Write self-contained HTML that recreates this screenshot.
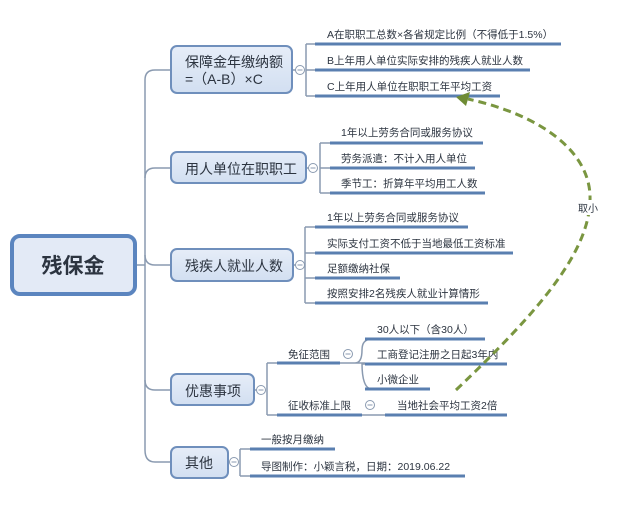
<!DOCTYPE html>
<html><head><meta charset="utf-8"><style>
html,body{margin:0;padding:0;background:#fff;}
svg text{font-family:"Liberation Sans","Noto Sans CJK SC",sans-serif;fill:#2c3440;}
</style></head><body>
<svg width="640" height="504" viewBox="0 0 640 504" xmlns="http://www.w3.org/2000/svg">
<g fill="none" stroke="#8a9ab0" stroke-width="1.5">
<path d="M137 265 H145"/>
<path d="M155 70 Q145 70 145 80 V450 Q145 462 155 462 H170"/>
<path d="M145 178 Q145 168 155 168 H170"/>
<path d="M145 255 Q145 265 155 265 H170"/>
<path d="M145 380 Q145 390 155 390 H170"/>
<path d="M155 70 H170"/>
<path d="M306 44 V96 M306 44 H315 M306 70 H315 M306 96 H315 M293 70 H296"/>
<path d="M320 143 V193 M320 143 H330 M320 168 H330 M320 193 H330 M306 168 H309"/>
<path d="M305 227 V303 M305 227 H315 M305 253 H315 M305 278 H315 M305 303 H315 M293 265 H296"/>
<path d="M267 363 V415 M267 363 H277 M267 415 H277 M254 390 H257"/>
<path d="M340 363 H365 M355 363 Q362 363 362 350 Q362 339 372 339 M362 363 Q362 389 372 389 M362 364 H372"/>
<path d="M362 415 H385"/>
<path d="M240 449 V476 M240 449 H250 M240 476 H250"/>
</g>
<g fill="#fff" stroke="#8a9ab0" stroke-width="1">
<circle cx="300" cy="70" r="4.5"/><circle cx="313" cy="168" r="4.5"/><circle cx="300" cy="265" r="4.5"/>
<circle cx="261" cy="390" r="4.5"/><circle cx="234" cy="462" r="4.5"/>
<circle cx="348" cy="354" r="4.5"/><circle cx="370" cy="405" r="4.5"/>
</g>
<g stroke="#8a9ab0" stroke-width="1">
<path d="M297.5 70 H302.5 M310.5 168 H315.5 M297.5 265 H302.5 M258.5 390 H263.5 M231.5 462 H236.5 M345.5 354 H350.5 M367.5 405 H372.5"/>
</g>
<defs><linearGradient id="g" x1="0" y1="0" x2="0" y2="1"><stop offset="0" stop-color="#e6edf8"/><stop offset="1" stop-color="#d2dff1"/></linearGradient></defs>
<rect x="12" y="236" width="123" height="58" rx="8" fill="#e3eaf6" stroke="#5b85bf" stroke-width="4"/>
<text x="73" y="273" font-size="21" font-weight="bold" text-anchor="middle" fill="#2f3e55">残保金</text>
<g fill="url(#g)" stroke="#6f8fbc" stroke-width="2">
<rect x="171" y="46" width="121" height="47" rx="6"/>
<rect x="171" y="152" width="135" height="31" rx="6"/>
<rect x="171" y="249" width="122" height="32" rx="6"/>
<rect x="171" y="374" width="83" height="31" rx="6"/>
<rect x="171" y="447" width="57" height="31" rx="6"/>
</g>
<g font-size="14">
<text x="185" y="67">保障金年缴纳额</text>
<text x="185" y="84">=（A-B）×C</text>
<text x="185" y="174">用人单位在职职工</text>
<text x="185" y="271">残疾人就业人数</text>
<text x="185" y="396">优惠事项</text>
<text x="185" y="468">其他</text>
</g>
<g stroke="#5a7fb0" stroke-width="3">
<path d="M315 44 H561 M315 70 H530 M315 96 H500"/>
<path d="M330 143 H483 M330 168 H475 M330 193 H485"/>
<path d="M315 227 H468 M315 253 H513 M315 278 H400 M315 303 H488"/>
<path d="M277 363 H340 M365 339 H485 M365 364 H507 M365 389 H430 M277 415 H362 M385 415 H507"/>
<path d="M250 449 H335 M250 476 H465"/>
</g>
<g font-size="10.5">
<text x="327" y="38">A在职职工总数×各省规定比例（不得低于1.5%）</text>
<text x="327" y="64">B上年用人单位实际安排的残疾人就业人数</text>
<text x="327" y="90">C上年用人单位在职职工年平均工资</text>
<text x="341" y="136">1年以上劳务合同或服务协议</text>
<text x="341" y="162">劳务派遣：不计入用人单位</text>
<text x="341" y="187">季节工：折算年平均用工人数</text>
<text x="327" y="221">1年以上劳务合同或服务协议</text>
<text x="327" y="247">实际支付工资不低于当地最低工资标准</text>
<text x="327" y="272">足额缴纳社保</text>
<text x="327" y="297">按照安排2名残疾人就业计算情形</text>
<text x="288" y="358">免征范围</text>
<text x="377" y="333">30人以下（含30人）</text>
<text x="377" y="358">工商登记注册之日起3年内</text>
<text x="377" y="383">小微企业</text>
<text x="288" y="409">征收标准上限</text>
<text x="397" y="409">当地社会平均工资2倍</text>
<text x="261" y="443">一般按月缴纳</text>
<text x="261" y="470">导图制作：小颖言税，日期：2019.06.22</text>
</g>
<path d="M456 390 C540 310 592 250 590 195 C588 150 540 115 468 99" fill="none" stroke="#7a9640" stroke-width="3" stroke-dasharray="8,5"/>
<rect x="576" y="200" width="24" height="15" fill="#fff"/>
<text x="578" y="212" font-size="10" fill="#666">取小</text>
<polygon points="456,97 470,92 466,106" fill="#6f8c35"/>
</svg>
</body></html>
